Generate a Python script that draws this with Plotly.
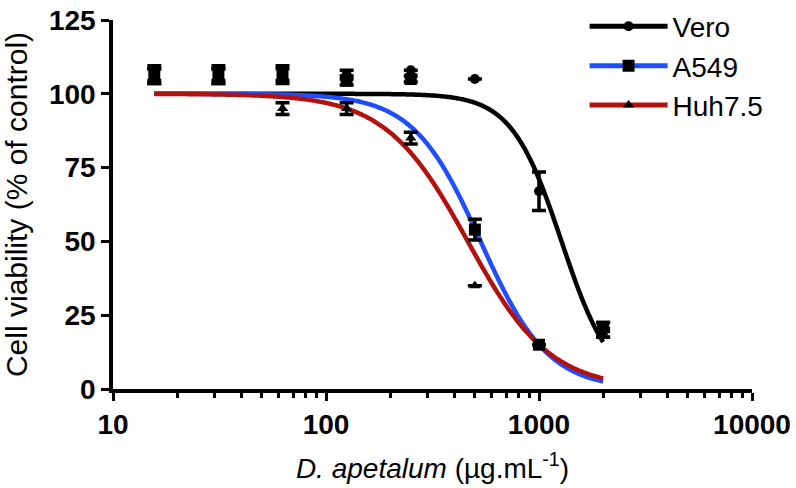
import numpy as np
import plotly.graph_objects as go

# Concentrations (µg/mL)
conc = [15.625, 31.25, 62.5, 125, 250, 500, 1000, 2000]

# Mean cell viability (% of control) and SD
vero_mean = [107, 107, 107, 106.5, 108, 105, 67, 20]
vero_sd = [2.5, 2.5, 2.5, 1.5, 0, 0, 6.5, 2.5]
a549_mean = [106, 106, 106, 104.5, 105, 54, 15, 21]
a549_sd = [2.5, 2.5, 2.5, 1.5, 1.0, 3.5, 0, 1.5]
huh_mean = [106, 106, 95, 95, 85, 35, 15, 19]
huh_sd = [2.5, 2.5, 2.0, 2.0, 2.0, 0, 0, 1.5]

# Fitted dose-response parameters (top, bottom, IC50, Hill slope)
vero_fit = dict(top=100, bottom=0, ic50=1276, hill=3.7)
a549_fit = dict(top=100, bottom=0, ic50=532, hill=2.75)
huh_fit = dict(top=100, bottom=0, ic50=463, hill=2.25)

names = ["Vero", "A549", "Huh7.5"]
colors = ["#000000", "#1f4eff", "#b3110e"]
symbols = ["circle", "square", "triangle-up"]
msizes = [10, 12, 10]

x_ticks = [10, 100, 1000, 10000]
y_ticks = [0, 25, 50, 75, 100, 125]

def logistic(x, p):
    return p["bottom"] + (p["top"] - p["bottom"]) / (1 + (x / p["ic50"]) ** p["hill"])

xs = np.logspace(np.log10(conc[0]), np.log10(conc[-1]), 400)

fig = go.Figure()
fits = [vero_fit, a549_fit, huh_fit]
means = [vero_mean, a549_mean, huh_mean]
sds = [vero_sd, a549_sd, huh_sd]

for name, p, c in zip(names, fits, colors):
    fig.add_trace(go.Scatter(x=xs, y=logistic(xs, p), mode="lines",
                             line=dict(color=c, width=4.5, simplify=False),
                             showlegend=False, hoverinfo="skip", cliponaxis=False))

for name, m, s, sym, ms in zip(names, means, sds, symbols, msizes):
    fig.add_trace(go.Scatter(x=conc, y=m, mode="markers",
                             marker=dict(symbol=sym, size=ms, color="black"),
                             error_y=dict(type="data", array=s, color="black",
                                          thickness=3.5, width=7),
                             showlegend=False, cliponaxis=False, name=name))

for name, c, sym, ms in zip(names, colors, symbols, msizes):
    fig.add_trace(go.Scatter(x=[None], y=[None], mode="lines+markers", name=name,
                             line=dict(color=c, width=5),
                             marker=dict(symbol=sym, size=ms, color="black"),
                             legendgroup=name))

font_family = "Arial, Liberation Sans, sans-serif"
fig.update_layout(
    width=796, height=488,
    margin=dict(l=113, r=44, t=20, b=99, autoexpand=False),
    plot_bgcolor="white", paper_bgcolor="white",
    font=dict(family=font_family, color="black"),
    legend=dict(x=0.738, y=1.05, xanchor="left", yanchor="top",
                font=dict(size=28, family=font_family), tracegroupgap=0,
                bgcolor="rgba(0,0,0,0)", itemwidth=78),
    xaxis=dict(type="log", range=[1, 4], tickvals=x_ticks,
               ticktext=[str(v) for v in x_ticks], automargin=False,
               ticklabeloverflow="allow",
               ticks="outside", ticklen=8, tickwidth=3, tickcolor="black",
               showline=True, linewidth=3.5, linecolor="black",
               showgrid=False, zeroline=False,
               tickfont=dict(size=28, family=font_family, weight="bold"),
               minor=dict(tickvals=[v * k for v in [10, 100, 1000] for k in range(2, 10)],
                          ticks="outside", ticklen=5, tickwidth=3, tickcolor="black",
                          showgrid=False),
               title=dict(text="<i>D. apetalum</i> (µg.mL<sup>-1</sup>)",
                          font=dict(size=28), standoff=20)),
    yaxis=dict(range=[0, 125], tickvals=y_ticks, automargin=False,
               ticklabeloverflow="allow",
               ticks="outside", ticklen=8, tickwidth=3, tickcolor="black",
               showline=True, linewidth=3.5, linecolor="black",
               showgrid=False, zeroline=False,
               tickfont=dict(size=28, family=font_family, weight="bold"),
               title=dict(text="Cell viability (% of control)", font=dict(size=30),
                          standoff=16)),
)

fig.write_html("out.html", config={"displayModeBar": False},
               post_script="document.body.style.margin='0';document.body.style.overflow='hidden';")
